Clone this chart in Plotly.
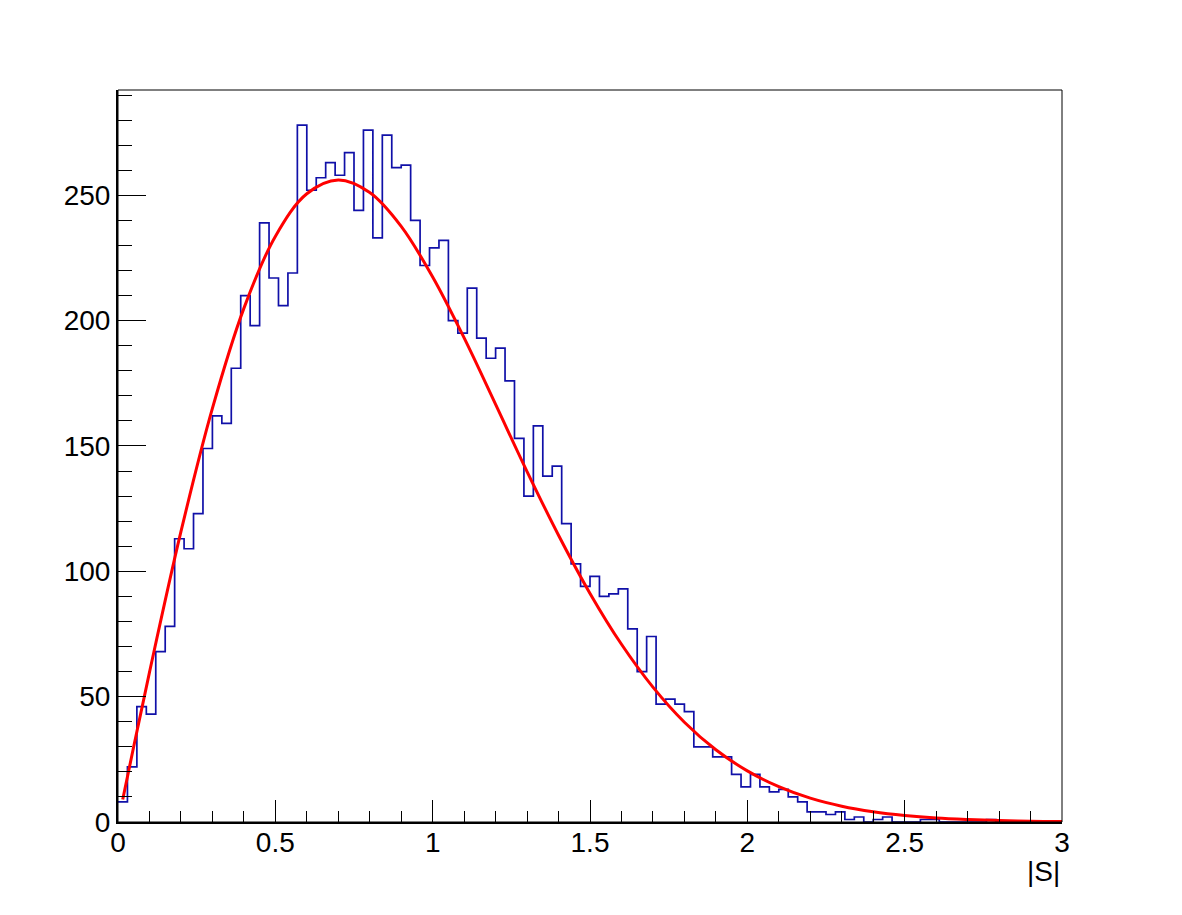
import numpy as np
import plotly.graph_objects as go

# Histogram: 100 bins from 0 to 3 in |S|
x_min, x_max, n_bins = 0.0, 3.0, 100
counts = [
    8, 22, 46, 43, 68, 78, 113, 109, 123, 149,
    162, 159, 181, 210, 198, 239, 217, 206, 219, 278,
    252, 257, 263, 258, 267, 244, 276, 233, 274, 261,
    262, 240, 222, 229, 232, 200, 195, 213, 193, 185,
    189, 176, 153, 130, 158, 138, 142, 119, 103, 94,
    98, 90, 91, 93, 77, 60, 74, 47, 49, 47,
    44, 30, 30, 26, 26, 19, 14, 19, 14, 12,
    13, 10, 8, 4, 4, 3, 4, 1, 2, 0,
    1, 2, 0, 0, 0, 1, 1, 0, 0, 0,
    0, 0, 1, 0, 0, 0, 0, 0, 0, 0,
]

# Fit curve, values
fit_x = [0.015, 0.05, 0.1, 0.2, 0.3, 0.4, 0.5, 0.6, 0.7, 0.8, 0.9, 1.0,
         1.1, 1.2, 1.3, 1.4, 1.5, 1.6, 1.7, 1.8, 1.9, 2.0, 2.1, 2.2,
         2.3, 2.4, 2.5, 2.6, 2.7, 2.8, 2.9, 3.0]
fit_y = [9.0, 30.1, 59.7, 115.8, 165.0, 204.9, 233.6, 250.6, 256.1, 251.1,
         237.6, 217.4, 193.1, 166.6, 139.8, 114.4, 91.2, 70.9, 53.8, 39.8,
         28.8, 20.4, 14.1, 9.5, 6.3, 4.1, 2.6, 1.6, 1.0, 0.6, 0.3, 0.2]

x_title = "|S|"
y_max = 292

edges = np.linspace(x_min, x_max, n_bins + 1)
step_x = list(edges)
step_y = list(counts) + [counts[-1]]

fig = go.Figure()
fig.add_trace(go.Scatter(
    x=step_x, y=step_y, mode="lines", line_shape="hv",
    line=dict(color="#1010a8", width=1.7), showlegend=False, hoverinfo="skip",
))
fig.add_trace(go.Scatter(
    x=fit_x, y=fit_y, mode="lines", line_shape="spline",
    line=dict(color="#ff0000", width=3), showlegend=False, hoverinfo="skip",
))

font = dict(family="Liberation Sans, Arial, Helvetica, sans-serif", size=28, color="black")

fig.update_layout(
    width=1182, height=915,
    margin=dict(l=118, r=120, t=90, b=93),
    paper_bgcolor="white", plot_bgcolor="white",
    font=font,
    xaxis=dict(
        range=[x_min, x_max], dtick=0.5, tick0=0,
        ticks="inside", ticklen=22, tickwidth=1, tickcolor="black",
        minor=dict(ticks="inside", ticklen=11, dtick=0.1, tickwidth=1, tickcolor="black", showgrid=False),
        showline=True, linecolor="black", linewidth=2, mirror=False,
        showgrid=False, zeroline=False, tickfont=font, ticklabelstandoff=-6,
    ),
    yaxis=dict(
        range=[0, y_max], dtick=50, tick0=0,
        ticks="inside", ticklen=28, tickwidth=1, tickcolor="black",
        minor=dict(ticks="inside", ticklen=14, dtick=10, tickwidth=1, tickcolor="black", showgrid=False),
        showline=True, linecolor="black", linewidth=2, mirror=False,
        showgrid=False, zeroline=False, tickfont=font, ticklabelstandoff=0,
    ),
    shapes=[dict(type="rect", xref="paper", yref="paper", x0=0, y0=0, x1=1, y1=1,
                 line=dict(color="black", width=1), layer="above")],
    annotations=[dict(text=x_title, xref="paper", yref="paper", x=1.0, y=0,
                      xanchor="right", yanchor="top", yshift=-32, showarrow=False,
                      font=font)],
)

fig.write_html("out.html")
